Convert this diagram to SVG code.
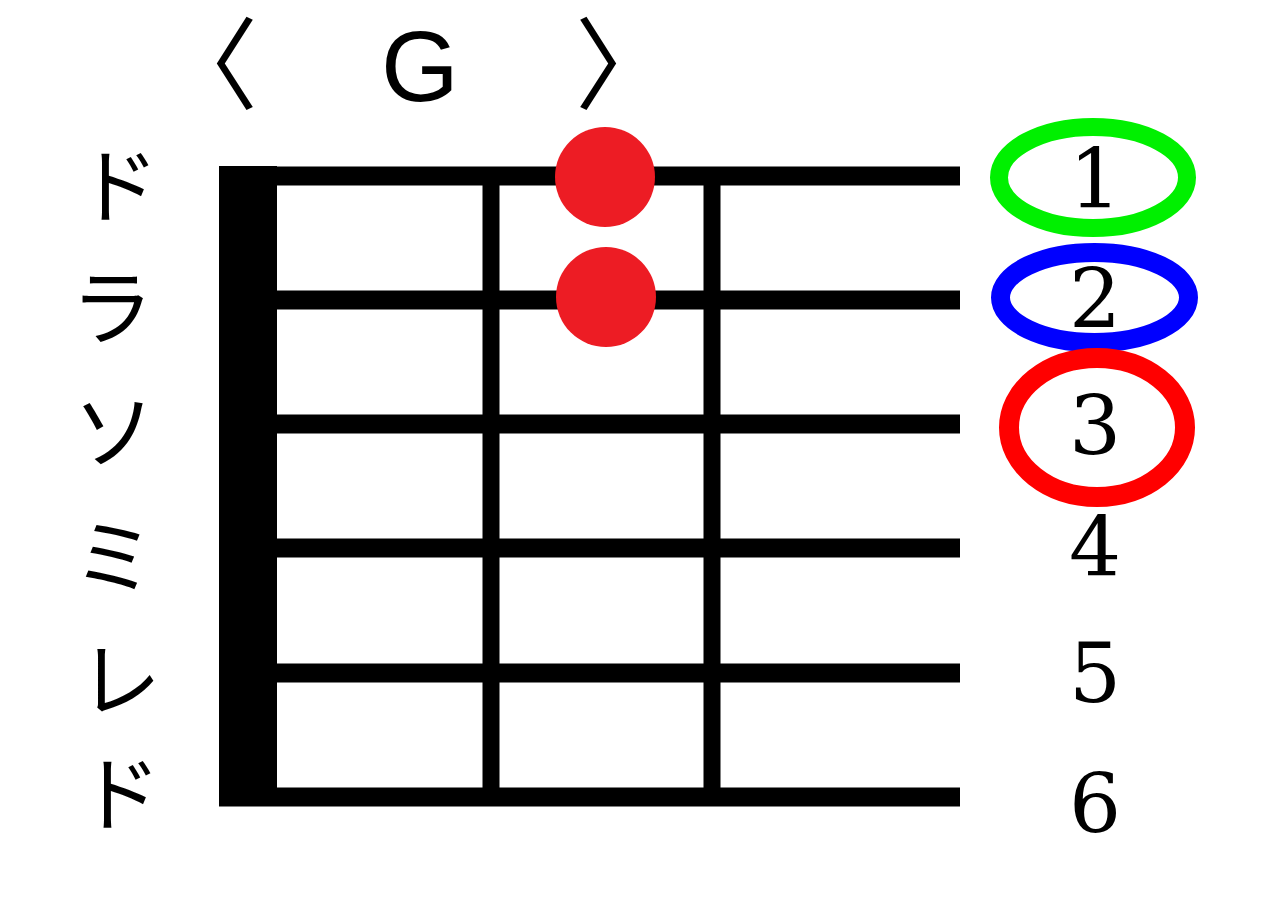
<svg xmlns="http://www.w3.org/2000/svg" width="1280" height="904" viewBox="0 0 1280 904">
<style>
.str{stroke:#000;stroke-width:19;fill:none}
.fret{stroke:#000;stroke-width:17;fill:none}
.kana{font-family:"Noto Sans CJK JP","Noto Sans CJK SC",sans-serif;font-size:82px;fill:#000;text-anchor:middle;dominant-baseline:central}
.num{font-family:"DejaVu Serif","Liberation Serif",serif;font-size:82px;fill:#000;text-anchor:middle}
.br{font-family:"Noto Sans CJK JP",sans-serif;font-size:100px;fill:#000;text-anchor:middle}
.g{font-family:"Liberation Sans",Arial,sans-serif;font-size:100px;fill:#000;text-anchor:middle}
.dot{fill:#ed1c24}
.ring{fill:none}
</style>
<rect width="1280" height="904" fill="#fff"/>
<g id="title">
<text class="br" x="208" y="101">〈</text>
<text class="g" x="420" y="101">G</text>
<text class="br" x="625" y="101">〉</text>
</g>
<g id="board">
<rect x="219" y="166" width="58" height="640" fill="#000"/>
<g id="strings">
<line class="str" x1="219" y1="176" x2="960" y2="176"/>
<line class="str" x1="219" y1="300" x2="960" y2="300"/>
<line class="str" x1="219" y1="424" x2="960" y2="424"/>
<line class="str" x1="219" y1="548" x2="960" y2="548"/>
<line class="str" x1="219" y1="673" x2="960" y2="673"/>
<line class="str" x1="219" y1="797" x2="960" y2="797"/>
</g>
<g id="frets">
<line class="fret" x1="491" y1="176" x2="491" y2="797"/>
<line class="fret" x1="712" y1="176" x2="712" y2="797"/>
</g>
</g>
<g id="dots">
<circle class="dot" cx="605" cy="177" r="50"/>
<circle class="dot" cx="606" cy="297" r="50"/>
</g>
<g id="kana">
<text class="kana" x="118" y="180">ド</text>
<text class="kana" x="112" y="302">ラ</text>
<text class="kana" x="114" y="426">ソ</text>
<text class="kana" x="114" y="551">ミ</text>
<text class="kana" x="120" y="674">レ</text>
<text class="kana" x="120" y="788">ド</text>
</g>
<g id="rings">
<ellipse class="ring" cx="1093" cy="177.5" rx="94" ry="50.5" stroke="#00f000" stroke-width="18"/>
<ellipse class="ring" cx="1094.5" cy="297.5" rx="94" ry="45" stroke="#0000ff" stroke-width="19"/>
<ellipse class="ring" cx="1097" cy="427.5" rx="88" ry="69.5" stroke="#ff0000" stroke-width="20"/>
</g>
<g id="numbers">
<text class="num" x="1095" y="208">1</text>
<text class="num" x="1095" y="328">2</text>
<text class="num" x="1095" y="455">3</text>
<text class="num" x="1095" y="576">4</text>
<text class="num" x="1095" y="702">5</text>
<text class="num" x="1095" y="833">6</text>
</g>
</svg>
